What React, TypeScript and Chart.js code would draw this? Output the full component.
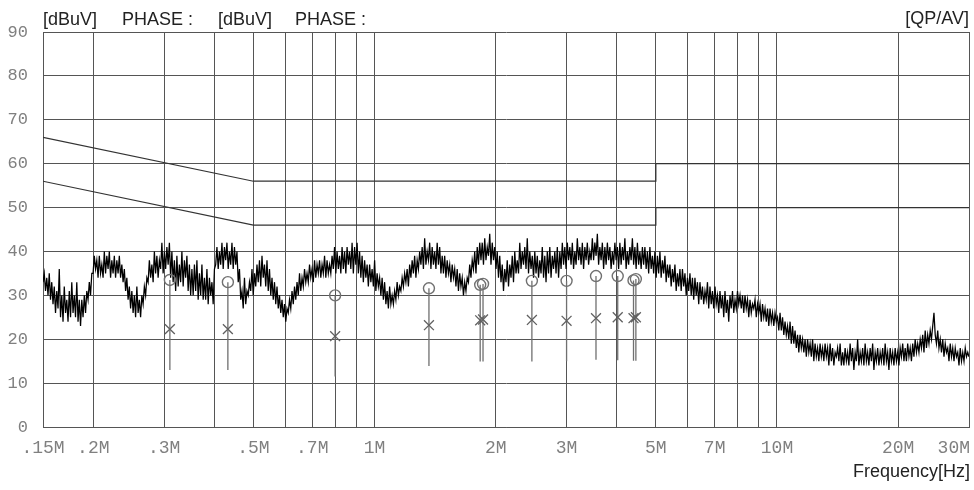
import React, { useEffect, useRef } from 'react';
import { Chart, registerables } from 'chart.js';

Chart.register(...registerables);

// Receiver sweep (MHz)
const sweepStartMHz = 0.15;
const sweepStopMHz = 30;

// Peak trace levels [dBuV]
const traceLevels: number[] = [
  33, 35, 31, 34, 30, 35, 29, 33, 28, 32, 26, 31, 27, 36, 25, 30, 24, 32, 26, 29,
  24, 31, 25, 33, 26, 30, 25, 33, 24, 29, 23, 29, 25, 30, 26, 31, 29, 33, 30, 35,
  35, 39, 36, 38, 34, 39, 35, 37, 34, 40, 35, 39, 36, 40, 34, 38, 35, 39, 34, 38,
  35, 39, 34, 37, 33, 36, 31, 34, 29, 32, 27, 31, 26, 30, 25, 32, 26, 29, 25, 30,
  28, 32, 30, 34, 33, 38, 34, 37, 33, 40, 35, 39, 34, 38, 36, 42, 35, 40, 36, 41,
  37, 42, 34, 40, 33, 38, 31, 39, 32, 37, 33, 40, 32, 38, 34, 39, 31, 37, 30, 36,
  30, 37, 31, 38, 29, 35, 30, 37, 29, 34, 29, 36, 28, 34, 30, 33, 28, 36, 37, 41,
  36, 40, 37, 42, 36, 41, 38, 42, 36, 40, 37, 42, 36, 41, 37, 40, 33, 36, 29, 31,
  27, 34, 28, 31, 30, 33, 31, 36, 30, 35, 32, 37, 33, 38, 32, 39, 34, 37, 32, 38,
  31, 36, 30, 34, 29, 33, 28, 32, 27, 30, 26, 29, 25, 28, 24, 27, 26, 29, 27, 31,
  28, 32, 29, 33, 30, 35, 31, 34, 32, 36, 33, 35, 33, 37, 34, 36, 33, 38, 34, 37,
  35, 38, 34, 37, 35, 39, 34, 38, 35, 37, 35, 39, 36, 41, 35, 40, 36, 39, 35, 41,
  36, 40, 35, 41, 37, 40, 36, 42, 35, 41, 37, 42, 35, 40, 34, 39, 33, 38, 34, 37,
  32, 37, 33, 36, 32, 38, 31, 35, 32, 34, 30, 34, 29, 33, 28, 31, 27, 32, 28, 30,
  28, 31, 29, 33, 30, 32, 31, 34, 32, 35, 33, 36, 32, 37, 34, 38, 35, 39, 34, 38,
  36, 40, 37, 41, 36, 43, 37, 40, 38, 42, 36, 41, 37, 40, 36, 42, 37, 41, 35, 39,
  35, 39, 34, 38, 35, 37, 33, 37, 34, 36, 32, 36, 31, 35, 32, 34, 30, 33, 31, 34,
  33, 37, 34, 38, 36, 40, 35, 41, 37, 42, 38, 42, 37, 43, 38, 41, 39, 44, 37, 42,
  38, 41, 36, 40, 34, 39, 33, 37, 31, 36, 33, 38, 32, 37, 34, 39, 33, 40, 35, 38,
  35, 42, 36, 40, 37, 41, 36, 43, 35, 40, 36, 39, 34, 40, 35, 39, 34, 38, 35, 41,
  34, 39, 33, 40, 35, 41, 34, 39, 36, 40, 35, 41, 34, 40, 36, 42, 37, 41, 36, 42,
  38, 41, 37, 42, 36, 40, 37, 43, 38, 41, 37, 42, 36, 41, 38, 42, 37, 40, 38, 43,
  38, 42, 39, 44, 37, 41, 38, 42, 36, 41, 37, 42, 38, 41, 36, 40, 37, 42, 38, 41,
  36, 42, 37, 41, 38, 43, 36, 40, 37, 41, 38, 43, 37, 41, 36, 42, 37, 40, 36, 41,
  37, 41, 36, 40, 35, 41, 36, 39, 35, 40, 34, 39, 35, 40, 34, 38, 35, 39, 33, 37,
  34, 37, 32, 36, 33, 37, 31, 35, 32, 36, 31, 36, 32, 35, 30, 34, 31, 35, 30, 34,
  29, 34, 30, 33, 28, 33, 29, 32, 28, 31, 29, 33, 27, 32, 28, 31, 27, 32, 28, 30,
  26, 31, 27, 30, 25, 31, 26, 29, 24, 30, 27, 31, 26, 29, 27, 31, 28, 30, 27, 30,
  26, 30, 27, 29, 25, 29, 26, 28, 27, 29, 25, 28, 26, 28, 24, 28, 25, 27, 24, 27,
  23, 27, 24, 26, 23, 26, 24, 25, 22, 26, 22, 25, 21, 24, 21, 23, 20, 24, 19, 23,
  19, 22, 18, 21, 17, 21, 18, 20, 17, 20, 16, 20, 17, 19, 16, 20, 15, 19, 16, 18,
  15, 19, 16, 18, 15, 19, 16, 18, 14, 19, 15, 18, 14, 17, 16, 18, 15, 19, 14, 17,
  14, 18, 15, 17, 14, 19, 15, 18, 13, 17, 15, 20, 14, 17, 15, 18, 14, 19, 15, 17,
  14, 18, 15, 19, 13, 17, 15, 18, 14, 17, 15, 18, 14, 19, 15, 17, 13, 18, 15, 17,
  14, 18, 15, 17, 14, 18, 16, 19, 15, 18, 15, 19, 16, 18, 15, 19, 16, 20, 17, 19,
  17, 20, 18, 21, 17, 22, 18, 21, 19, 22, 20, 23, 26, 21, 19, 22, 18, 20, 17, 20,
  16, 19, 17, 18, 15, 19, 16, 18, 15, 18, 16, 17, 14, 18, 15, 17, 15, 18, 16, 17,
  16,
];

// Limit lines
const qpLimitFreq = [0.15, 0.5, 5, 5, 30];
const qpLimitLevel = [66, 56, 56, 60, 60];
const avLimitFreq = [0.15, 0.5, 5, 5, 30];
const avLimitLevel = [56, 46, 46, 50, 50];

// Final measurement markers
const markerFreq = [0.31, 0.432, 0.798, 1.365, 1.83, 1.86, 2.46, 3.0, 3.55, 4.02, 4.4, 4.46];
const qpLevel = [33.5, 33.0, 30.0, 31.6, 32.4, 32.6, 33.3, 33.3, 34.4, 34.4, 33.4, 33.7];
const avLevel = [22.3, 22.3, 20.7, 23.2, 24.3, 24.5, 24.4, 24.2, 24.8, 25.0, 24.8, 25.0];
const stemBottom = [13, 13, 11.5, 13.9, 14.9, 14.9, 14.9, 15, 15.3, 15.2, 15.1, 15.1];

// Axis
const gridFreqs = [0.15, 0.2, 0.3, 0.4, 0.5, 0.6, 0.7, 0.8, 0.9, 1, 2, 3, 4, 5, 6, 7, 8, 9, 10, 20, 30];
const xTickValues = [0.15, 0.2, 0.3, 0.5, 0.7, 1, 2, 3, 5, 7, 10, 20, 30];
const xTickLabels = ['.15M', '.2M', '.3M', '.5M', '.7M', '1M', '2M', '3M', '5M', '7M', '10M', '20M', '30M'];
const headerTexts = ['[dBuV]', 'PHASE :', '[dBuV]', 'PHASE :'];
const headerRight = '[QP/AV]';
const xAxisTitle = 'Frequency[Hz]';

const GRID = '#555555';
const TICK = '#808080';

const textPlugin = {
  id: 'emiText',
  afterDraw(chart: any) {
    const ctx = chart.ctx;
    const xs = chart.scales.x;
    const area = chart.chartArea;
    ctx.save();
    // x tick labels
    ctx.font = '18px "Liberation Mono", "DejaVu Sans Mono", monospace';
    ctx.fillStyle = TICK;
    ctx.textBaseline = 'middle';
    ctx.textAlign = 'left';
    xTickValues.forEach((v, i) => {
      const label = xTickLabels[i];
      const w = ctx.measureText(label).width;
      let px = xs.getPixelForValue(v) - w / 2;
      if (px + w > chart.width - 4) px = chart.width - 4 - w;
      ctx.fillText(label, px, area.bottom + 21);
    });
    // headers
    ctx.font = '18px "Liberation Sans", Arial, sans-serif';
    ctx.fillStyle = '#222222';
    const headerX = [area.left, area.left + 79, area.left + 175, area.left + 252];
    headerTexts.forEach((t, i) => ctx.fillText(t, headerX[i], 20));
    ctx.textAlign = 'right';
    ctx.fillText(headerRight, area.right, 19);
    ctx.fillText(xAxisTitle, area.right + 1, 472);
    ctx.restore();
  },
};

export default function App() {
  const ref = useRef<HTMLCanvasElement | null>(null);

  useEffect(() => {
    document.body.style.margin = '0';
    const canvas = ref.current;
    if (!canvas) return;

    const n = traceLevels.length;
    const traceData = traceLevels.map((v, i) => ({
      x: sweepStartMHz * Math.pow(sweepStopMHz / sweepStartMHz, i / (n - 1)),
      y: v,
    }));
    const stemData: any[] = [];
    markerFreq.forEach((f, i) => {
      stemData.push({ x: f, y: stemBottom[i] });
      stemData.push({ x: f, y: qpLevel[i] });
      stemData.push({ x: f, y: null });
    });

    const chart = new Chart(canvas, {
      type: 'line',
      data: {
        datasets: [
          {
            label: 'QP',
            data: markerFreq.map((f, i) => ({ x: f, y: qpLevel[i] })),
            showLine: false,
            pointStyle: 'circle',
            pointRadius: 5.5,
            pointBorderColor: '#707070',
            pointBackgroundColor: 'rgba(0,0,0,0)',
            pointBorderWidth: 1.4,
          },
          {
            label: 'AV',
            data: markerFreq.map((f, i) => ({ x: f, y: avLevel[i] })),
            showLine: false,
            pointStyle: 'crossRot',
            pointRadius: 7,
            pointBorderColor: '#606060',
            pointBorderWidth: 1.3,
          },
          {
            label: 'stems',
            data: stemData,
            borderColor: '#707070',
            borderWidth: 1.3,
            pointRadius: 0,
            spanGaps: false,
          },
          {
            label: 'QP limit',
            data: qpLimitFreq.map((f, i) => ({ x: f, y: qpLimitLevel[i] })),
            borderColor: '#333333',
            borderWidth: 1.2,
            pointRadius: 0,
          },
          {
            label: 'AV limit',
            data: avLimitFreq.map((f, i) => ({ x: f, y: avLimitLevel[i] })),
            borderColor: '#333333',
            borderWidth: 1.2,
            pointRadius: 0,
          },
          {
            label: 'trace',
            data: traceData,
            borderColor: '#000000',
            borderWidth: 1.25,
            pointRadius: 0,
          },
        ],
      },
      options: {
        responsive: false,
        animation: false,
        events: [],
        layout: { autoPadding: false, padding: { top: 32, right: 5, left: 0, bottom: 0 } },
        plugins: { legend: { display: false }, tooltip: { enabled: false } },
        scales: {
          x: {
            type: 'logarithmic',
            min: sweepStartMHz,
            max: sweepStopMHz,
            afterBuildTicks: (scale: any) => {
              scale.ticks = gridFreqs.map((v) => ({ value: v }));
            },
            afterFit: (scale: any) => {
              scale.height = 63;
              scale.paddingLeft = 0;
              scale.paddingRight = 0;
            },
            ticks: { display: false },
            grid: { color: GRID, lineWidth: 1, drawTicks: false },
            border: { display: true, color: GRID, width: 1 },
          },
          y: {
            min: 0,
            max: 90,
            afterFit: (scale: any) => {
              scale.width = 43;
            },
            ticks: {
              stepSize: 10,
              padding: 15,
              color: TICK,
              font: { family: '"Liberation Mono", "DejaVu Sans Mono", monospace', size: 17 },
            },
            grid: { color: GRID, lineWidth: 1, drawTicks: false },
            border: { display: true, color: GRID, width: 1 },
          },
        },
      },
      plugins: [textPlugin],
    } as any);

    return () => chart.destroy();
  }, []);

  return <canvas ref={ref} width={974} height={490} style={{ display: 'block' }} />;
}
